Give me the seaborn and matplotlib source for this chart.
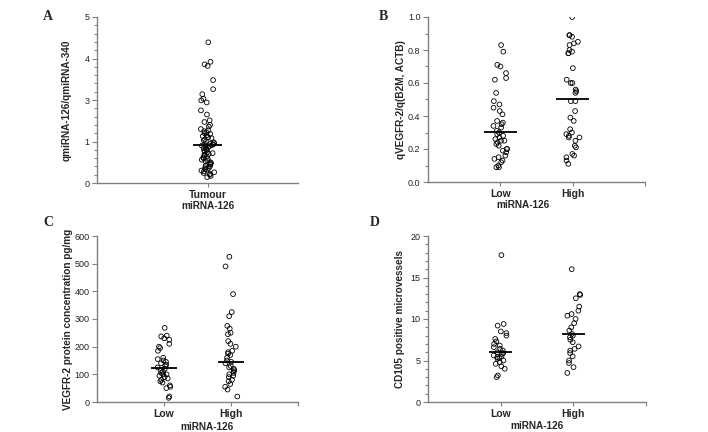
import numpy as np
import pandas as pd
import matplotlib
matplotlib.use('Agg')
import matplotlib.pyplot as plt
from matplotlib.ticker import MultipleLocator
import seaborn as sns

# panel A is plotted in axis units (0-4); the figure labels these ticks 0,1,3,4,5
a_tumour = [3.39, 2.92, 2.86, 2.82, 2.48, 2.26, 2.14, 2.03, 1.99, 1.94, 1.75, 1.65,
            1.51, 1.47, 1.40, 1.36, 1.30, 1.27, 1.25, 1.22, 1.20, 1.18, 1.15, 1.13,
            1.10, 1.08, 1.05, 1.03, 1.00, 0.98, 0.96, 0.94, 0.93, 0.92, 0.91, 0.90,
            0.89, 0.88, 0.86, 0.84, 0.82, 0.80, 0.78, 0.76, 0.74, 0.72, 0.70, 0.68,
            0.66, 0.64, 0.62, 0.60, 0.58, 0.56, 0.54, 0.52, 0.50, 0.48, 0.46, 0.44,
            0.42, 0.40, 0.38, 0.36, 0.34, 0.32, 0.30, 0.28, 0.26, 0.24, 0.22, 0.20,
            0.17, 0.14]
a_line = [0.91]
a_ticklabels = ['0', '1', '3', '4', '5']

b_low = [0.83, 0.79, 0.71, 0.70, 0.66, 0.63, 0.62, 0.54, 0.49, 0.47, 0.45, 0.43,
         0.41, 0.37, 0.36, 0.35, 0.34, 0.33, 0.31, 0.30, 0.29, 0.28, 0.27, 0.26,
         0.25, 0.25, 0.24, 0.23, 0.22, 0.20, 0.20, 0.19, 0.18, 0.16, 0.15, 0.14,
         0.13, 0.12, 0.10, 0.09, 0.09]
b_high = [1.00, 0.89, 0.89, 0.88, 0.85, 0.84, 0.83, 0.80, 0.79, 0.78, 0.78, 0.69,
          0.62, 0.60, 0.60, 0.56, 0.55, 0.54, 0.49, 0.49, 0.43, 0.39, 0.37, 0.32,
          0.30, 0.29, 0.28, 0.27, 0.27, 0.25, 0.22, 0.21, 0.17, 0.16, 0.15, 0.13,
          0.11]
b_line = [0.306, 0.503]

c_low = [268, 240, 237, 230, 225, 210, 200, 195, 185, 160, 155, 150, 145, 140,
         135, 130, 125, 120, 115, 110, 105, 100, 100, 95, 90, 85, 80, 75, 70, 60,
         55, 50, 20, 15]
c_high = [525, 490, 390, 325, 310, 275, 265, 250, 245, 220, 210, 200, 185, 180,
          175, 170, 160, 150, 145, 140, 130, 125, 120, 115, 110, 105, 100, 95, 90,
          80, 75, 65, 55, 45, 20]
c_line = [122, 146]

d_low = [17.7, 9.4, 9.2, 8.5, 8.3, 8.0, 7.6, 7.3, 7.0, 6.8, 6.6, 6.4, 6.2, 6.0,
         5.9, 5.8, 5.6, 5.5, 5.4, 5.3, 5.2, 5.0, 4.8, 4.6, 4.3, 4.0, 3.2, 3.0]
d_high = [16.0, 13.0, 12.9, 12.5, 11.5, 11.0, 10.6, 10.4, 10.0, 9.5, 9.0, 8.6,
          8.2, 8.0, 7.8, 7.5, 7.2, 6.7, 6.4, 6.2, 5.9, 5.5, 5.0, 4.7, 4.2, 3.5]
d_line = [6.08, 8.16]

groups = ['Low', 'High']

sns.set_theme(style='ticks')
plt.rcParams['font.family'] = ['Liberation Sans', 'DejaVu Sans']

GREY = '#808080'

fig = plt.figure(figsize=(7.08, 4.32), dpi=100)
fig.patch.set_facecolor('white')


def panel(rect, data, order, line, half, jitter, ylim, major, minor, ylabel,
          letter, letter_xy, ylab_x, xlab_x, xlab_y, xlim, ticks, ticklabels):
    ax = fig.add_axes(rect)
    ax.set_facecolor('white')
    df = pd.concat([pd.DataFrame({'group': g, 'value': v}) for g, v in data.items()],
                   ignore_index=True)
    np.random.seed(3)
    sns.stripplot(data=df, x='group', y='value', order=order, color='black',
                  size=3.4, jitter=jitter, ax=ax, zorder=3)
    for coll in ax.collections:
        coll.set_facecolor('none')
        coll.set_edgecolor('black')
        coll.set_linewidth(0.6)
    for i, m in enumerate(line):
        ax.hlines(m, i - half, i + half, color='black', lw=1.3, zorder=4)

    ax.set_ylim(*ylim)
    ax.yaxis.set_major_locator(MultipleLocator(major))
    if minor:
        ax.yaxis.set_minor_locator(MultipleLocator(minor))
    ax.set_xlim(*xlim)
    ax.set_xticks(ticks)
    ax.set_xticklabels(ticklabels, fontweight='bold', fontsize=7.5)

    for s in ['top', 'right']:
        ax.spines[s].set_visible(False)
    for s in ['left', 'bottom']:
        ax.spines[s].set_color(GREY)
        ax.spines[s].set_linewidth(1.0)
    ax.tick_params(axis='both', which='both', color=GREY, width=0.8, direction='out')
    ax.tick_params(axis='y', which='major', length=3.5, labelsize=6.5, pad=2,
                   labelcolor='#222222')
    ax.tick_params(axis='y', which='minor', length=2.5)
    ax.tick_params(axis='x', length=3, pad=2)

    ax.set_ylabel(ylabel, fontweight='bold', fontsize=7.2)
    ax.yaxis.set_label_coords(ylab_x, 0.5)
    ax.set_xlabel('miRNA-126', fontweight='bold', fontsize=7.2)
    ax.xaxis.set_label_coords(xlab_x, xlab_y)
    fig.text(letter_xy[0] / 708, 1 - letter_xy[1] / 432, letter, family='Liberation Serif',
             fontweight='bold', fontsize=10, ha='center', va='center')
    return ax


axA = panel([97 / 708, 249 / 432, 201 / 708, 166 / 432], {'Tumour': a_tumour},
            ['Tumour'], a_line, 0.145, 0.07, (0, 4), 1, 0.2,
            'qmiRNA-126/qmiRNA-340', 'A', (48, 16), -0.124, 0.55, -0.108,
            (-1.1, 0.9), [0], ['Tumour'])
axA.set_yticks(range(len(a_ticklabels)))
axA.set_yticklabels(a_ticklabels)

panel([428 / 708, 250 / 432, 217 / 708, 165 / 432], {'Low': b_low, 'High': b_high},
      groups, b_line, 0.23, 0.1, (0, 1), 0.2, 0.1,
      'qVEGFR-2/q(B2M, ACTB)', 'B', (383, 16), -0.103, 0.438, -0.108,
      (-1, 2), [0, 1, 2], groups + [''])

panel([97 / 708, 30 / 432, 201 / 708, 166 / 432], {'Low': c_low, 'High': c_high},
      groups, c_line, 0.2, 0.1, (0, 600), 100, None,
      'VEGFR-2 protein concentration pg/mg', 'C', (48, 223), -0.12, 0.547, -0.118,
      (-1, 2), [0, 1, 2], groups + [''])

panel([428 / 708, 30 / 432, 218 / 708, 166 / 432], {'Low': d_low, 'High': d_high},
      groups, d_line, 0.16, 0.1, (0, 20), 5, 1,
      'CD105 positive microvessels', 'D', (375, 223), -0.106, 0.5, -0.114,
      (-1, 2), [0, 1, 2], groups + [''])

fig.savefig('out.png', dpi=100)
